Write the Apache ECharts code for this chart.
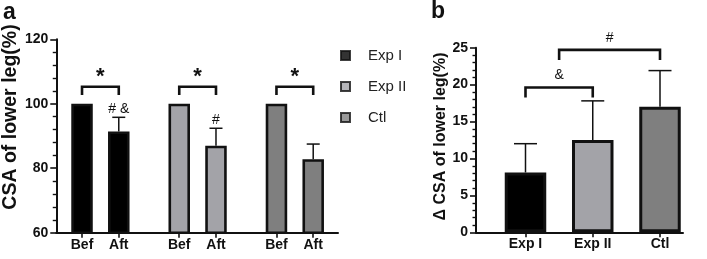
<!DOCTYPE html>
<html>
<head>
<meta charset="utf-8">
<script src="https://cdn.jsdelivr.net/npm/echarts@6/dist/echarts.min.js"></script>
<style>
html, body { margin: 0; padding: 0; background: #fff; }
#container { width: 707px; height: 259px; }
</style>
</head>
<body>
<div id="container"></div>
<script>
// panel a: CSA before / after, normalised to 100
var groupsA = ['Exp I', 'Exp II', 'Ctl'];
var phasesA = ['Bef', 'Aft'];
var befA = [100, 100, 100];
var aftA = [91.4, 87.0, 82.8];
var aftSdA = [4.4, 5.4, 4.7];
var aftSigA = ['# &', '#', ''];
var pairSigA = ['*', '*', '*'];
var yTicksA = [60, 80, 100, 120];

// panel b: change of CSA
var groupsB = ['Exp I', 'Exp II', 'Ctl'];
var deltaB = [8.1, 12.5, 17.0];
var deltaSdB = [3.9, 5.3, 4.9];
var yTicksB = [0, 5, 10, 15, 20, 25];
// [from, to, bracket level, label]
var compareB = [[0, 1, 19.6, '&'], [0.5, 2, 24.7, '#']];

var colors = ['#000000', '#a3a3a8', '#7f7f7f'];
var FONT = "'Liberation Sans', Arial, sans-serif";
var INK = '#111';
var OFF = 0.189; // Bef / Aft offset from the group centre

function tickStep(t) { return t[1] - t[0]; }

var barPosA = [], barLabelA = [], barDataA = [];
groupsA.forEach(function (g, i) {
	[befA[i], aftA[i]].forEach(function (v, k) {
		var x = i + (k === 0 ? -OFF : OFF);
		barPosA.push(x);
		barLabelA.push(phasesA[k]);
		barDataA.push({ value: [x, v], itemStyle: { color: colors[i] } });
	});
});

function labelAt(pos, labels) {
	return function (v) {
		for (var i = 0; i < pos.length; i++) {
			if (Math.abs(pos[i] - v) < 1e-6) return labels[i];
		}
		return '';
	};
}

function errorBars(capHalf, labels) {
	return function (params, api) {
		var x = api.value(0), y = api.value(1), sd = api.value(2);
		var p0 = api.coord([x, y]);
		var p1 = api.coord([x, y + sd]);
		var kids = [
			{ type: 'line', shape: { x1: p0[0], y1: p0[1], x2: p1[0], y2: p1[1] }, style: { stroke: INK, lineWidth: 1.5 } },
			{ type: 'line', shape: { x1: p1[0] - capHalf, y1: p1[1], x2: p1[0] + capHalf, y2: p1[1] }, style: { stroke: INK, lineWidth: 1.5 } }
		];
		var txt = labels ? labels[params.dataIndex] : '';
		if (txt) {
			kids.push({ type: 'text', style: { text: txt, x: p1[0], y: p1[1] - 8.5, align: 'center', verticalAlign: 'middle', font: '14px ' + FONT, fill: INK } });
		}
		return { type: 'group', children: kids };
	};
}

function brackets(labels, dropPx, gapPx, font) {
	return function (params, api) {
		var a = api.coord([api.value(0), api.value(2)]);
		var b = api.coord([api.value(1), api.value(2)]);
		return {
			type: 'group',
			children: [
				{ type: 'polyline', shape: { points: [[a[0], a[1] + dropPx], [a[0], a[1]], [b[0], b[1]], [b[0], b[1] + dropPx]] },
				  style: { stroke: INK, lineWidth: 2.6, fill: null } },
				{ type: 'text', style: { text: labels[params.dataIndex], x: (a[0] + b[0]) / 2, y: a[1] - gapPx, align: 'center', verticalAlign: 'middle', font: font, fill: INK } }
			]
		};
	};
}

var errDataA = groupsA.map(function (g, i) { return [i + OFF, aftA[i], aftSdA[i]]; });
var bracketDataA = groupsA.map(function (g, i) { return [i - OFF, i + OFF, 105.3]; });
var barDataB = groupsB.map(function (g, i) { return { value: [i, deltaB[i]], itemStyle: { color: colors[i] } }; });
var errDataB = groupsB.map(function (g, i) { return [i, deltaB[i], deltaSdB[i]]; });
var bracketDataB = compareB.map(function (c) { return [c[0], c[1], c[2]]; });

function yAxisStyle(ticks) {
	return {
		type: 'value',
		min: ticks[0],
		max: ticks[ticks.length - 1],
		interval: tickStep(ticks),
		axisLine: { show: true, onZero: false, lineStyle: { color: INK, width: 2 } },
		axisTick: { show: true, length: 6, lineStyle: { color: INK, width: 1.6 } },
		minorTick: { show: true, splitNumber: 5, length: 3.5, lineStyle: { color: INK, width: 1.4 } },
		splitLine: { show: false },
		axisLabel: { color: INK, fontFamily: FONT, fontWeight: 'bold', fontSize: 14, margin: 8 },
		nameLocation: 'middle'
	};
}

var yA = yAxisStyle(yTicksA);
yA.gridIndex = 0;
yA.name = 'CSA of lower leg(%)';
yA.nameGap = 35;
yA.nameTextStyle = { color: INK, fontFamily: FONT, fontWeight: 'bold', fontSize: 19.5, padding: [0, 0, 0, 38] };

var yB = yAxisStyle(yTicksB);
yB.gridIndex = 1;
yB.name = '\u0394 CSA of lower leg(%)';
yB.nameGap = 26;
yB.nameTextStyle = { color: INK, fontFamily: FONT, fontWeight: 'bold', fontSize: 16, padding: [0, 0, 0, 7] };

var posB = groupsB.map(function (g, i) { return i; });

var option = {
	animation: false,
	backgroundColor: '#fff',
	title: [
		{ text: 'a', left: 3, top: 1, padding: 0, textStyle: { fontFamily: FONT, fontWeight: 'bold', fontSize: 23, color: INK } },
		{ text: 'b', left: 431, top: 0, padding: 0, textStyle: { fontFamily: FONT, fontWeight: 'bold', fontSize: 23, color: INK } }
	],
	legend: {
		orient: 'vertical',
		left: 340,
		top: 48,
		padding: 0,
		itemWidth: 9,
		itemHeight: 9,
		itemGap: 16,
		icon: 'rect',
		data: groupsA,
		textStyle: { fontFamily: FONT, fontSize: 15, color: '#222', padding: [0, 0, 0, 13] }
	},
	grid: [
		{ left: 54, top: 39.3, width: 284, height: 193.4 },
		{ left: 476, top: 47.7, width: 207, height: 184.6 }
	],
	xAxis: [
		{
			type: 'value', gridIndex: 0, min: -0.454, max: 2.444,
			axisLine: { show: true, onZero: false, lineStyle: { color: INK, width: 2 } },
			axisTick: { show: true, customValues: barPosA, length: 5, lineStyle: { color: INK, width: 1.6 } },
			axisLabel: { customValues: barPosA, formatter: labelAt(barPosA, barLabelA), color: INK, fontFamily: FONT, fontWeight: 'bold', fontSize: 14, margin: 5 },
			splitLine: { show: false }
		},
		{
			type: 'value', gridIndex: 1, min: -0.736, max: 2.342,
			axisLine: { show: true, onZero: false, lineStyle: { color: INK, width: 2 } },
			axisTick: { show: true, customValues: posB, length: 5, lineStyle: { color: INK, width: 1.6 } },
			axisLabel: { customValues: posB, formatter: labelAt(posB, groupsB), color: INK, fontFamily: FONT, fontWeight: 'bold', fontSize: 14, margin: 5 },
			splitLine: { show: false }
		}
	],
	yAxis: [yA, yB],
	series: [
		{
			type: 'bar', name: 'CSA', xAxisIndex: 0, yAxisIndex: 0,
			barWidth: 21.5, data: barDataA,
			itemStyle: { borderColor: INK, borderWidth: 2.6 }
		},
		{
			type: 'custom', xAxisIndex: 0, yAxisIndex: 0, clip: false, z: 3,
			renderItem: errorBars(6.5, aftSigA), data: errDataA
		},
		{
			type: 'custom', xAxisIndex: 0, yAxisIndex: 0, clip: false, z: 3,
			renderItem: brackets(pairSigA, 8.3, 9.5, 'bold 22px ' + FONT), data: bracketDataA
		},
		{
			type: 'bar', name: 'dCSA', xAxisIndex: 1, yAxisIndex: 1,
			barWidth: 41.5, data: barDataB,
			itemStyle: { borderColor: INK, borderWidth: 3 }
		},
		{
			type: 'custom', xAxisIndex: 1, yAxisIndex: 1, clip: false, z: 3,
			renderItem: errorBars(11.5, null), data: errDataB
		},
		{
			type: 'custom', xAxisIndex: 1, yAxisIndex: 1, clip: false, z: 3,
			renderItem: brackets(compareB.map(function (c) { return c[3]; }), 10, 12, '14px ' + FONT), data: bracketDataB
		}
	].concat(groupsA.map(function (g, i) {
		return {
			type: 'scatter', name: g, xAxisIndex: 0, yAxisIndex: 0, data: [],
			itemStyle: { color: colors[i], borderColor: INK, borderWidth: 2 }
		};
	}))
};

var chart = echarts.init(document.getElementById('container'));
chart.setOption(option);
</script>
</body>
</html>
